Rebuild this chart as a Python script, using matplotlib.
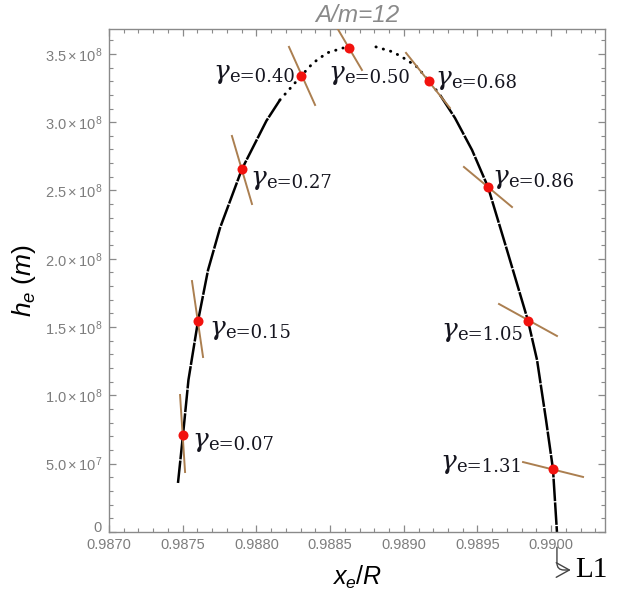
import math
import matplotlib
matplotlib.use("Agg")
import matplotlib.pyplot as plt
from matplotlib.ticker import MultipleLocator, FuncFormatter

plt.rcParams['mathtext.fontset'] = 'custom'
plt.rcParams['mathtext.rm'] = 'Liberation Sans'
plt.rcParams['mathtext.it'] = 'Liberation Sans:italic'
plt.rcParams['mathtext.bf'] = 'Liberation Sans:bold'

# ---- trajectory h_e versus x_e/R (A/m = 12) ----
# lower-left branch (densely sampled)
left_x = [0.987468, 0.987502, 0.987539, 0.987604, 0.987672, 0.987753,
          0.987902, 0.988068, 0.988160]
left_h = [3.59e7, 7.10e7, 1.113e8, 1.545e8, 1.918e8, 2.225e8,
          2.657e8, 3.010e8, 3.163e8]
# near the apex the samples thin out
apex_left_x = [0.988160, 0.988303, 0.988384, 0.988479, 0.988588]
apex_left_h = [3.163e8, 3.338e8, 3.433e8, 3.507e8, 3.543e8]
apex_right_x = [0.988811, 0.988927, 0.989022, 0.989090, 0.989171, 0.989246]
apex_right_h = [3.551e8, 3.514e8, 3.455e8, 3.404e8, 3.302e8, 3.199e8]
# descending branch towards L1
right_x = [0.989246, 0.989347, 0.989463, 0.989571, 0.989700, 0.989843,
           0.989904, 0.989965, 0.990012, 0.990039]
right_h = [3.199e8, 3.031e8, 2.796e8, 2.526e8, 2.064e8, 1.545e8,
           1.259e8, 8.20e7, 4.61e7, 0.0]

# ---- marked states and their gamma_e values ----
gamma_e = [0.07, 0.15, 0.27, 0.40, 0.50, 0.68, 0.86, 1.05, 1.31]
mark_x = [0.987502, 0.987604, 0.987902, 0.988303, 0.988628,
          0.989171, 0.989571, 0.989843, 0.990012]
mark_h = [7.10e7, 1.545e8, 2.657e8, 3.338e8, 3.543e8,
          3.302e8, 2.526e8, 1.545e8, 4.61e7]

# orientation segments through each marked state (two endpoints)
seg_x0 = [0.987482, 0.987563, 0.987834, 0.988221, 0.988540,
          0.989015, 0.989408, 0.989646, 0.989809]
seg_h0 = [1.003e8, 1.837e8, 2.899e8, 3.551e8, 3.704e8,
          3.507e8, 2.672e8, 1.669e8, 5.12e7]
seg_x1 = [0.987516, 0.987638, 0.987970, 0.988398, 0.988716,
          0.989313, 0.989734, 0.990039, 0.990216]
seg_h1 = [4.39e7, 1.281e8, 2.401e8, 3.126e8, 3.382e8,
          3.104e8, 2.379e8, 1.435e8, 4.03e7]

l1_x = 0.990039

x_ticks = [0.9870, 0.9875, 0.9880, 0.9885, 0.9890, 0.9895, 0.9900]
y_ticks = [0, 5e7, 1.0e8, 1.5e8, 2.0e8, 2.5e8, 3.0e8, 3.5e8]

# ---- styling ----
FRAME = '#8a8a8a'
TICKLAB = '#7d7d7d'
BROWN = '#ab7f50'
RED = '#f2120e'
LABEL_C = '#15151f'

fig = plt.figure(figsize=(6.2, 5.94), dpi=100)
ax = fig.add_axes([109 / 620, 1 - 532 / 594, 496 / 620, 503 / 594])
ax.set_xlim(0.9870, 0.990365)
ax.set_ylim(0, 3.682e8)

# trajectory
dense = dict(color='black', lw=1.8, ls=(0, (9, 0.5)), zorder=2)
sparse = dict(color='black', lw=2.1, ls=(0, (0.1, 2.5)),
              dash_capstyle='round', zorder=2)
ax.plot(left_x, left_h, **dense)
ax.plot(right_x, right_h, **dense)
ax.plot(apex_left_x, apex_left_h, **sparse)
ax.plot(apex_right_x, apex_right_h, **sparse)

# orientation segments
for x0, h0, x1, h1 in zip(seg_x0, seg_h0, seg_x1, seg_h1):
    ax.plot([x0, x1], [h0, h1], color=BROWN, lw=1.4, zorder=3)

# marked states
ax.plot(mark_x, mark_h, 'o', color=RED, ms=7.2, mec='none', zorder=4)

# labels: (dx, dy) offsets in pixels; side 'R' = label right of the dot
label_layout = [(9, -15, 'R'), (11, -17, 'R'), (8, -19, 'R'), (-6, -6, 'L'),
                (-21, -35, 'R'), (6, -7, 'R'), (4, 0, 'R'), (-5, -19, 'L'),
                (-31, -3, 'L')]
fig.canvas.draw()
renderer = fig.canvas.get_renderer()
g_kw = dict(fontsize=19, family='DejaVu Serif', style='italic', color=LABEL_C,
            textcoords='offset pixels', va='baseline', zorder=5)
e_kw = dict(fontsize=13, family='DejaVu Serif', color=LABEL_C,
            textcoords='offset pixels', va='baseline', zorder=5)
for x, h, g, (dx, dy, side) in zip(mark_x, mark_h, gamma_e, label_layout):
    etxt = f"e={g:.2f}"
    if side == 'R':
        gt = ax.annotate("γ", (x, h), xytext=(dx, dy + 3), ha='left', **g_kw)
        w = gt.get_window_extent(renderer).width
        ax.annotate(etxt, (x, h), xytext=(dx + w, dy), ha='left', **e_kw)
    else:
        et = ax.annotate(etxt, (x, h), xytext=(dx, dy), ha='right', **e_kw)
        w = et.get_window_extent(renderer).width
        ax.annotate("γ", (x, h), xytext=(dx - w, dy + 3), ha='right', **g_kw)

# axes frame and ticks
for sp in ax.spines.values():
    sp.set_color(FRAME)
    sp.set_linewidth(1.0)
ax.set_xticks(x_ticks)
ax.set_yticks(y_ticks)
ax.xaxis.set_minor_locator(MultipleLocator(0.0001))
ax.yaxis.set_minor_locator(MultipleLocator(1e7))
ax.xaxis.set_major_formatter(FuncFormatter(lambda v, p: f"{v:.4f}"))


def sci_fmt(v, pos):
    if v == 0:
        return "0"
    e = int(math.floor(math.log10(v) + 1e-9))
    m = v / 10 ** e
    return rf"${m:.1f}\times10^{{{e}}}$"


ax.yaxis.set_major_formatter(FuncFormatter(sci_fmt))
ax.tick_params(which='both', direction='in', top=True, right=True,
               color=FRAME, labelcolor=TICKLAB, labelsize=10.5)
ax.tick_params(which='major', length=5, width=0.9)
ax.tick_params(which='minor', length=3, width=0.8)
ax.tick_params(axis='x', pad=4)
ax.tick_params(axis='y', pad=5)
for lab in ax.get_xticklabels() + ax.get_yticklabels():
    lab.set_family('Liberation Sans')
# keep the y-axis "0" clear of the first x tick label
ax.get_yticklabels()[0].set_va('baseline')

ax.set_xlabel(r"$x_e/R$", fontsize=18, color='black', labelpad=9)
ax.set_ylabel(r"$h_e\ (m)$", fontsize=19, color='black', labelpad=5)
fig.text(357 / 620, 1 - 15 / 594, "A/m=12", ha='center', va='center',
         fontsize=17.5, style='italic', family='Liberation Sans', color='#8a8a8a')

# L1 marker below the axis
ax.annotate("L1", xy=(l1_x, 0), xycoords='data', xytext=(18, -38),
            textcoords='offset pixels', ha='left', va='center',
            fontsize=21, family='Liberation Serif', color='black',
            annotation_clip=False,
            arrowprops=dict(arrowstyle='<-,head_length=0.45,head_width=0.25',
                            color='#444444', lw=1.0, relpos=(0, 0.5),
                            shrinkA=1, shrinkB=11,
                            connectionstyle='angle,angleA=0,angleB=90,rad=7'))

fig.savefig('out.png', dpi=100)
